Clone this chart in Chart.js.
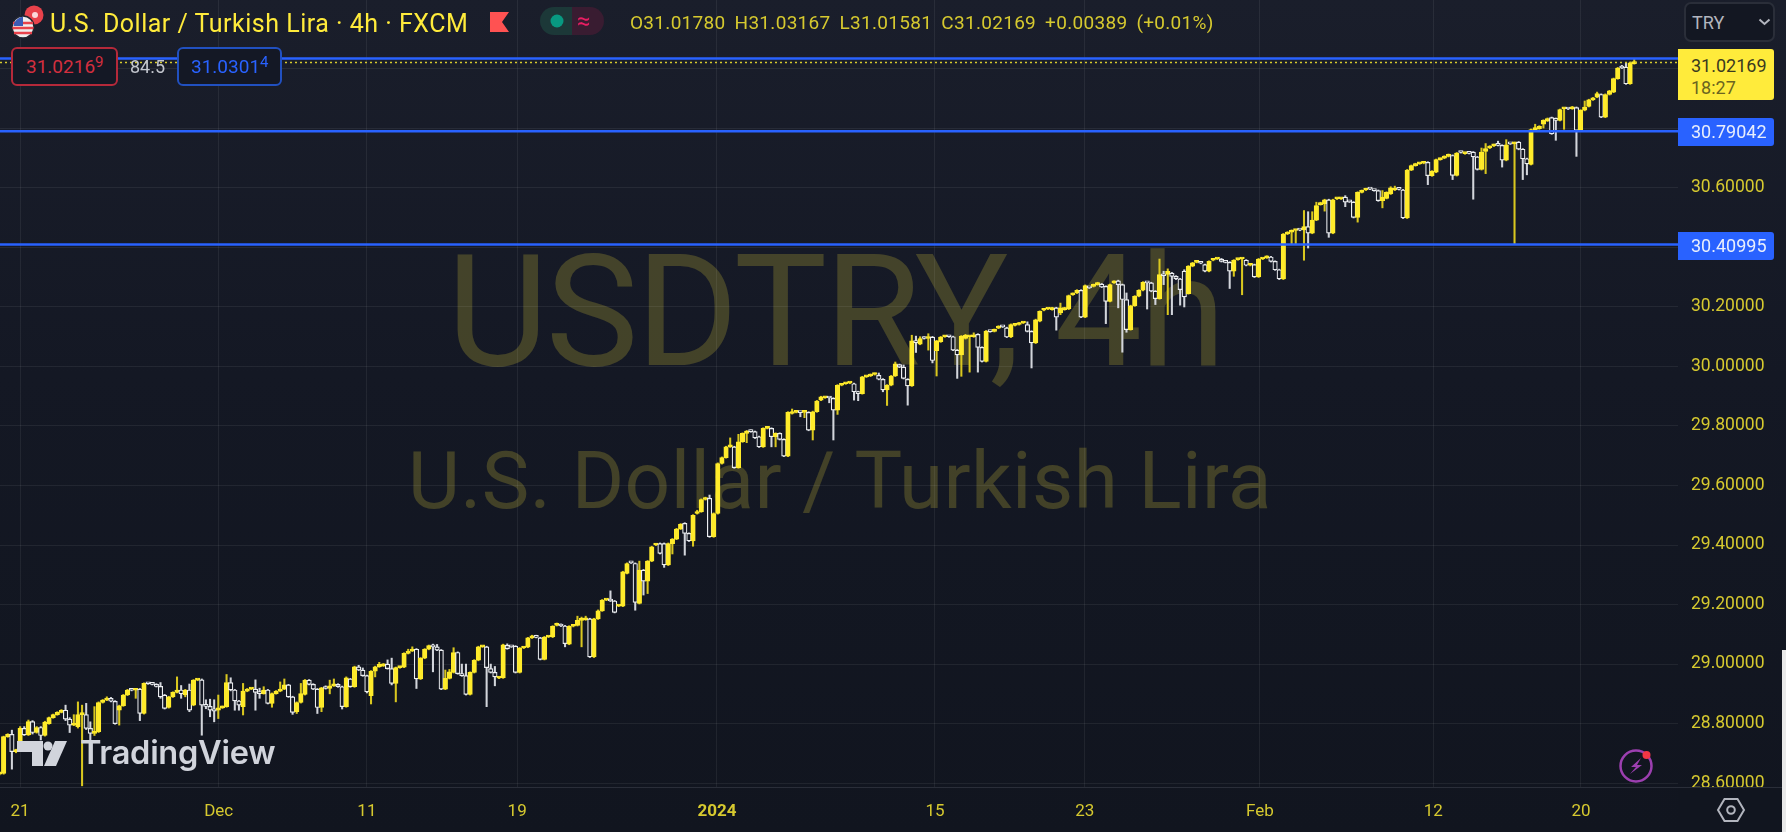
<!DOCTYPE html>
<html><head><meta charset="utf-8">
<script src="https://cdn.jsdelivr.net/npm/chart.js@4"></script>
<style>
html,body{margin:0;padding:0;background:#131722;overflow:hidden}
#wrap{position:relative;width:1786px;height:832px;background:linear-gradient(#1a1e2b,#141824 45%,#11151f);font-family:Roboto,sans-serif;overflow:hidden}
#wrap>*{position:absolute}
canvas{left:0;top:0;z-index:1}
.ov{z-index:2;white-space:nowrap;line-height:1}
.wm{z-index:0;color:rgba(255,235,59,.2);white-space:nowrap;line-height:1;font-family:Roboto,sans-serif}
.tag{z-index:2;left:1678px;width:96px;border-radius:0 3px 3px 0;text-align:left;box-sizing:border-box;padding-left:13px;font-size:18px}
.box{z-index:2;box-sizing:border-box;border-radius:6px;border:2px solid;background:#141825;font-size:19px;top:47px;height:39px;line-height:36px;white-space:nowrap}
.box sup{font-size:15px;line-height:0;vertical-align:6px}
</style></head><body>
<div id="wrap">
<div class="wm" style="left:447px;top:234px;font-size:156px;letter-spacing:-2.4px">USDTRY, 4h</div>
<div class="wm" style="left:408px;top:441px;font-size:80px;letter-spacing:.45px">U.S. Dollar / Turkish Lira</div>
<canvas id="c" width="1786" height="832"></canvas>

<svg class="ov" style="left:10px;top:3px" width="44" height="38" viewBox="0 0 44 38">
 <circle cx="24" cy="12" r="9.5" fill="#e8424b"/><circle cx="25" cy="12" r="3" fill="#fff" opacity=".8"/>
 <circle cx="13" cy="24" r="11" fill="#eee" stroke="#20242f" stroke-width="1.5"/>
 <path d="M3 20h20M2.500 25h21M4 30h18" stroke="#e8424b" stroke-width="2.400"/>
 <path d="M13 13.800a10.200 10.200 0 0 0-9.500 9.200h9.500z" fill="#3b5bb5"/>
</svg>
<div class="ov" style="left:50px;top:11px;font-size:25px;color:#FFEB3B;letter-spacing:.5px">U.S. Dollar / Turkish Lira · 4h · FXCM</div>
<svg class="ov" style="left:490px;top:12px" width="20" height="20"><path d="M0 0H19L12 10L19 20H0Z" fill="#ff5252"/></svg>
<svg class="ov" style="left:540px;top:6px" width="66" height="30">
 <path d="M14 1H32V29H14A14 14 0 0 1 14 1Z" fill="#1c3838"/>
 <path d="M32 1H50A14 14 0 0 1 50 29H32Z" fill="#391c31"/>
 <circle cx="17" cy="15" r="6.500" fill="#089981"/>
</svg>
<div class="ov" style="left:577px;top:9px;font-size:24px;color:#e91e63">≈</div>
<div class="ov" style="left:630px;top:13px;font-size:19px;color:#D6C92F;word-spacing:4px;letter-spacing:.3px">O31.01780 H31.03167 L31.01581 C31.02169 +0.00389 (+0.01%)</div>

<div class="box" style="left:11px;width:107px;border-color:#b5293a;color:#d32f3f;padding-left:13px">31.0216<sup>9</sup></div>
<div class="ov" style="left:130px;top:58px;font-size:18px;color:#c3c6ce">84.5</div>
<div class="box" style="left:177px;width:105px;border-color:#2150c0;color:#2962FF;padding-left:12px">31.0301<sup>4</sup></div>

<div class="ov" style="left:1684px;top:2px;width:91px;height:40px;box-sizing:border-box;border:2px solid #2a2e39;border-radius:7px;background:#131722"></div>
<div class="ov" style="left:1692px;top:14px;font-size:18px;color:#b2b5be">TRY</div>
<svg class="ov" style="left:1758px;top:18px" width="13" height="9"><path d="M1.500 1.500L6.500 6L11.500 1.500" fill="none" stroke="#b2b5be" stroke-width="2"/></svg>

<div class="tag" style="top:49px;height:51px;background:#FFEB3B;color:#3a3a20;padding-top:6px;line-height:22px">31.02169<br><span style="color:#6b6420">18:27</span></div>
<div class="tag" style="top:118px;height:28px;background:#2962FF;color:#e8eefc;line-height:28px">30.79042</div>
<div class="tag" style="top:232px;height:28px;background:#2962FF;color:#e8eefc;line-height:28px">30.40995</div>

<svg class="ov" style="left:17px;top:740px" width="52" height="27" viewBox="0 0 52 27">
 <path d="M0 1H26V26H15V12H0Z" fill="#d1d4dc"/><circle cx="31" cy="6" r="4.500" fill="#d1d4dc"/>
 <path d="M38 1H50L39 26H27Z" fill="#d1d4dc"/>
</svg>
<div class="ov" style="left:80px;top:736px;font-family:Inter,sans-serif;font-weight:600;font-size:32.6px;color:#d1d4dc;letter-spacing:-.3px">TradingView</div>

<svg class="ov" style="left:1616px;top:746px" width="40" height="40" viewBox="0 0 40 40">
 <circle cx="20" cy="20" r="15.500" fill="none" stroke="#9c3fb0" stroke-width="2.500"/>
 <path d="M25 12L15 21H20L14 28L26 19H21Z" fill="#9c3fb0"/>
 <circle cx="30.500" cy="9" r="4" fill="#f23645"/>
</svg>

<div class="ov" style="left:0;top:787px;width:1782px;height:1px;background:#2a2e39"></div>
<div class="ov" style="left:1678px;top:788px;width:104px;height:44px;background:#11151f"></div>
<svg class="ov" style="left:1716px;top:796px" width="30" height="28" viewBox="0 0 30 28">
 <path d="M8.500 3H21.500L28 14L21.500 25H8.500L2 14Z" fill="none" stroke="#b2b5be" stroke-width="2"/>
 <circle cx="15" cy="14" r="3.800" fill="none" stroke="#b2b5be" stroke-width="2"/>
</svg>
<div class="ov" style="left:1782px;top:650px;width:4px;height:182px;background:#e9e9e9"></div>
</div>
<script>
const xTickPositions=[4.97,53.1,89,125.4,173.8,226.6,262.9,305.3,347.3,383.1];
const xTickLabels=['21','Dec','11','19','2024','15','23','Feb','12','20'];
const yTickValues=[28.6,28.8,29.0,29.2,29.4,29.6,29.8,30.0,30.2,30.4,30.6,30.8,31.0];
const yTickLabels=['28.60000','28.80000','29.00000','29.20000','29.40000','29.60000','29.80000','30.00000','30.20000','','30.60000','',''];
const blueLevels=[31.0348,30.79042,30.40995];
const lastClose=31.02169;
const opens=[
28.630,28.633,28.756,28.764,28.706,28.710,28.784,28.762,28.807,28.770,
28.787,28.760,28.800,28.820,28.830,28.838,28.845,28.815,28.795,28.790,
28.830,28.830,28.784,28.767,28.773,28.871,28.879,28.885,28.875,28.845,
28.860,28.896,28.913,28.912,28.916,28.834,28.935,28.934,28.932,28.925,
28.896,28.854,28.890,28.905,28.913,28.896,28.913,28.862,28.946,28.947,
28.862,28.858,28.850,28.845,28.853,28.857,28.938,28.913,28.876,28.857,
28.909,28.916,28.916,28.905,28.901,28.913,28.868,28.901,28.909,28.916,
28.930,28.890,28.840,28.871,28.898,28.946,28.932,28.916,28.854,28.920,
28.918,28.927,28.932,28.924,28.857,28.950,28.924,28.991,28.980,28.961,
28.894,28.976,28.991,28.994,29.000,28.985,28.935,28.988,28.990,29.036,
29.044,29.050,28.950,29.020,29.050,29.064,29.058,29.047,28.916,28.952,
28.972,29.039,28.968,28.961,28.898,28.972,29.013,29.058,29.058,28.985,
28.972,28.953,28.954,29.063,29.060,29.060,28.972,29.054,29.057,29.088,
29.091,29.088,29.016,29.091,29.091,29.130,29.133,29.128,29.067,29.127,
29.130,29.147,29.149,29.152,29.024,29.152,29.179,29.215,29.215,29.212,
29.195,29.195,29.305,29.342,29.338,29.204,29.316,29.279,29.346,29.400,
29.405,29.405,29.333,29.405,29.420,29.454,29.473,29.439,29.414,29.506,
29.512,29.553,29.557,29.428,29.506,29.674,29.694,29.730,29.730,29.660,
29.747,29.775,29.783,29.781,29.764,29.730,29.792,29.792,29.764,29.775,
29.755,29.699,29.842,29.846,29.846,29.846,29.846,29.786,29.848,29.887,
29.895,29.895,29.893,29.853,29.937,29.942,29.944,29.942,29.915,29.909,
29.965,29.968,29.973,29.970,29.957,29.921,29.937,29.968,30.006,29.998,
29.957,29.935,30.086,30.075,30.097,30.094,30.099,30.053,30.083,30.100,
30.101,30.100,30.055,30.039,30.094,30.100,30.100,30.108,30.064,30.017,
30.118,30.118,30.129,30.135,30.130,30.099,30.138,30.141,30.146,30.141,
30.118,30.079,30.152,30.189,30.193,30.191,30.197,30.180,30.191,30.193,
30.241,30.247,30.256,30.166,30.265,30.269,30.275,30.277,30.269,30.219,
30.281,30.288,30.275,30.225,30.124,30.204,30.236,30.256,30.283,30.281,
30.253,30.228,30.309,30.309,30.314,30.303,30.294,30.320,30.245,30.337,
30.350,30.348,30.342,30.320,30.357,30.361,30.361,30.353,30.350,30.320,
30.359,30.361,30.357,30.340,30.342,30.301,30.361,30.365,30.368,30.353,
30.325,30.294,30.445,30.451,30.457,30.459,30.459,30.470,30.448,30.492,
30.544,30.546,30.560,30.448,30.563,30.563,30.569,30.555,30.552,30.501,
30.585,30.593,30.597,30.593,30.591,30.557,30.565,30.580,30.593,30.597,
30.593,30.499,30.660,30.675,30.681,30.683,30.686,30.641,30.653,30.695,
30.700,30.706,30.709,30.642,30.720,30.715,30.717,30.720,30.704,30.662,
30.723,30.734,30.741,30.745,30.743,30.693,30.749,30.748,30.754,30.730,
30.698,30.679,30.796,30.799,30.814,30.825,30.836,30.833,30.827,30.866,
30.866,30.866,30.870,30.793,30.861,30.874,30.896,30.905,30.914,30.838,
30.914,30.922,30.967,31.006,31.006,30.950,31.0178];
const highs=[
28.638,28.758,28.766,28.778,28.714,28.790,28.790,28.812,28.810,28.790,
28.790,28.808,28.822,28.832,28.840,28.847,28.862,28.820,28.830,28.873,
28.862,28.868,28.806,28.857,28.873,28.881,28.890,28.888,28.877,28.862,
28.898,28.915,28.915,28.915,28.918,28.937,28.938,28.936,28.934,28.938,
28.898,28.892,28.907,28.957,28.928,28.915,28.933,28.948,28.949,28.950,
28.880,28.882,28.880,28.896,28.859,28.965,28.954,28.915,28.878,28.935,
28.918,28.919,28.947,28.919,28.924,28.915,28.903,28.911,28.940,28.950,
28.932,28.892,28.873,28.935,28.948,28.948,28.934,28.918,28.922,28.927,
28.946,28.950,28.934,28.926,28.957,28.952,28.993,28.996,28.987,28.963,
28.978,28.993,29.006,29.002,29.014,29.020,28.990,28.992,29.038,29.050,
29.058,29.052,29.022,29.052,29.064,29.067,29.066,29.049,28.980,28.982,
29.055,29.041,29.000,29.000,28.974,29.015,29.060,29.061,29.060,29.000,
28.992,28.958,29.067,29.068,29.062,29.062,29.056,29.059,29.090,29.097,
29.097,29.090,29.093,29.094,29.129,29.138,29.135,29.130,29.129,29.132,
29.161,29.158,29.161,29.154,29.154,29.182,29.217,29.218,29.246,29.214,
29.198,29.312,29.340,29.345,29.340,29.346,29.318,29.348,29.396,29.405,
29.407,29.407,29.407,29.422,29.456,29.472,29.475,29.441,29.502,29.517,
29.555,29.561,29.568,29.508,29.676,29.696,29.732,29.760,29.732,29.772,
29.777,29.785,29.787,29.783,29.766,29.794,29.797,29.794,29.777,29.777,
29.757,29.848,29.857,29.849,29.848,29.849,29.848,29.850,29.886,29.900,
29.898,29.897,29.895,29.939,29.942,29.945,29.947,29.944,29.917,29.967,
29.968,29.975,29.978,29.978,29.959,29.939,29.970,30.015,30.008,30.005,
29.959,30.105,30.102,30.100,30.100,30.110,30.101,30.088,30.101,30.104,
30.103,30.102,30.057,30.104,30.108,30.103,30.113,30.110,30.066,30.121,
30.120,30.126,30.137,30.137,30.132,30.143,30.141,30.148,30.149,30.150,
30.120,30.159,30.187,30.195,30.196,30.199,30.199,30.213,30.199,30.240,
30.247,30.258,30.258,30.274,30.267,30.277,30.283,30.279,30.271,30.277,
30.288,30.290,30.277,30.247,30.206,30.238,30.258,30.285,30.285,30.283,
30.255,30.361,30.320,30.328,30.316,30.305,30.296,30.325,30.339,30.350,
30.353,30.350,30.344,30.355,30.363,30.364,30.363,30.355,30.352,30.359,
30.362,30.364,30.359,30.344,30.344,30.363,30.364,30.372,30.370,30.355,
30.327,30.447,30.453,30.459,30.460,30.461,30.524,30.520,30.520,30.552,
30.552,30.562,30.562,30.562,30.566,30.566,30.574,30.557,30.554,30.587,
30.593,30.599,30.599,30.595,30.593,30.591,30.587,30.604,30.606,30.599,
30.595,30.662,30.677,30.683,30.684,30.687,30.688,30.658,30.697,30.700,
30.708,30.714,30.711,30.719,30.722,30.718,30.719,30.722,30.706,30.734,
30.749,30.742,30.747,30.757,30.745,30.762,30.751,30.754,30.756,30.732,
30.700,30.798,30.814,30.809,30.829,30.835,30.838,30.835,30.865,30.869,
30.868,30.874,30.872,30.863,30.892,30.898,30.904,30.922,30.916,30.916,
30.928,30.969,31.005,31.012,31.020,31.023,31.03167];
const lows=[
28.628,28.630,28.754,28.647,28.702,28.708,28.760,28.760,28.765,28.768,
28.745,28.758,28.798,28.818,28.828,28.836,28.810,28.770,28.793,28.785,
28.591,28.780,28.740,28.760,28.770,28.869,28.877,28.873,28.798,28.795,
28.858,28.894,28.910,28.885,28.810,28.832,28.932,28.930,28.923,28.885,
28.849,28.852,28.888,28.903,28.885,28.890,28.840,28.860,28.944,28.761,
28.850,28.823,28.806,28.817,28.851,28.855,28.910,28.845,28.845,28.829,
28.907,28.914,28.845,28.885,28.899,28.866,28.855,28.899,28.907,28.914,
28.888,28.831,28.834,28.869,28.896,28.930,28.914,28.834,28.840,28.916,
28.900,28.925,28.922,28.849,28.855,28.922,28.922,28.978,28.959,28.903,
28.866,28.957,28.989,28.992,28.983,28.930,28.873,28.986,28.988,29.034,
29.042,28.918,28.948,29.018,29.048,28.974,29.045,28.914,28.914,28.950,
28.970,28.966,28.959,28.896,28.896,28.970,29.011,29.056,28.857,28.970,
28.927,28.951,28.952,29.050,29.056,28.970,28.970,29.052,29.055,29.086,
29.088,29.014,29.014,29.089,29.089,29.128,29.126,29.058,29.065,29.125,
29.128,29.058,29.147,29.022,29.022,29.150,29.177,29.213,29.210,29.172,
29.193,29.193,29.303,29.338,29.181,29.202,29.232,29.237,29.344,29.398,
29.370,29.325,29.331,29.370,29.418,29.452,29.366,29.412,29.396,29.504,
29.510,29.551,29.426,29.426,29.504,29.672,29.692,29.728,29.658,29.658,
29.745,29.744,29.779,29.758,29.728,29.728,29.790,29.730,29.730,29.753,
29.697,29.697,29.840,29.844,29.831,29.828,29.784,29.753,29.846,29.885,
29.893,29.878,29.753,29.839,29.935,29.940,29.942,29.887,29.885,29.907,
29.963,29.966,29.971,29.955,29.915,29.869,29.935,29.966,29.996,29.958,
29.870,29.933,30.047,30.073,30.092,30.055,30.012,29.968,30.081,30.098,
30.098,30.053,29.960,29.967,30.092,29.981,30.098,29.981,30.015,30.015,
30.115,30.116,30.127,30.131,30.097,30.097,30.136,30.139,30.144,30.116,
29.995,30.077,30.150,30.187,30.191,30.189,30.122,30.174,30.189,30.191,
30.239,30.245,30.164,30.164,30.262,30.267,30.273,30.265,30.144,30.217,
30.279,30.197,30.048,30.115,30.122,30.202,30.234,30.254,30.193,30.251,
30.208,30.226,30.275,30.174,30.174,30.292,30.206,30.200,30.243,30.335,
30.348,30.345,30.318,30.318,30.355,30.359,30.351,30.348,30.262,30.303,
30.357,30.241,30.338,30.338,30.299,30.299,30.359,30.363,30.351,30.323,
30.292,30.292,30.443,30.412,30.412,30.456,30.357,30.398,30.446,30.490,
30.542,30.522,30.434,30.446,30.561,30.561,30.537,30.551,30.499,30.485,
30.583,30.591,30.594,30.589,30.555,30.533,30.563,30.578,30.591,30.593,
30.497,30.497,30.658,30.673,30.679,30.681,30.611,30.639,30.651,30.693,
30.698,30.704,30.628,30.640,30.717,30.713,30.714,30.562,30.660,30.660,
30.648,30.732,30.739,30.741,30.670,30.691,30.746,30.410,30.728,30.628,
30.644,30.677,30.794,30.797,30.801,30.823,30.780,30.760,30.825,30.797,
30.863,30.864,30.706,30.791,30.859,30.872,30.894,30.903,30.836,30.836,
30.912,30.920,30.965,31.001,30.948,30.948,31.01581];
const closes=[
28.635,28.756,28.764,28.706,28.710,28.784,28.762,28.807,28.770,28.787,
28.760,28.805,28.820,28.830,28.838,28.845,28.815,28.795,28.796,28.830,
28.835,28.784,28.767,28.770,28.871,28.879,28.885,28.875,28.800,28.860,
28.896,28.913,28.912,28.913,28.834,28.935,28.934,28.932,28.925,28.890,
28.851,28.890,28.905,28.913,28.900,28.913,28.845,28.946,28.947,28.862,
28.858,28.845,28.842,28.853,28.857,28.938,28.913,28.876,28.862,28.909,
28.916,28.917,28.905,28.901,28.913,28.868,28.901,28.909,28.916,28.930,
28.890,28.838,28.871,28.901,28.946,28.932,28.916,28.854,28.920,28.918,
28.927,28.932,28.924,28.857,28.954,28.924,28.991,28.980,28.961,28.907,
28.976,28.991,28.999,29.000,28.985,28.935,28.988,28.990,29.036,29.044,
29.050,28.950,29.020,29.050,29.062,29.058,29.047,28.916,28.952,28.974,
29.039,28.968,28.961,28.898,28.972,29.013,29.058,29.059,28.988,28.972,
28.957,28.956,29.065,29.052,29.058,28.972,29.054,29.057,29.088,29.091,
29.090,29.016,29.091,29.092,29.127,29.135,29.128,29.069,29.127,29.130,
29.147,29.150,29.151,29.024,29.152,29.179,29.215,29.216,29.212,29.174,
29.196,29.310,29.338,29.340,29.207,29.316,29.279,29.346,29.394,29.403,
29.372,29.333,29.405,29.420,29.454,29.470,29.439,29.414,29.500,29.508,
29.553,29.559,29.428,29.506,29.674,29.694,29.730,29.732,29.660,29.747,
29.775,29.783,29.781,29.760,29.730,29.792,29.794,29.764,29.775,29.755,
29.699,29.846,29.844,29.847,29.845,29.847,29.786,29.848,29.884,29.898,
29.896,29.894,29.853,29.937,29.940,29.943,29.945,29.915,29.909,29.965,
29.966,29.973,29.976,29.957,29.921,29.937,29.968,30.009,29.998,29.960,
29.935,30.086,30.080,30.094,30.094,30.099,30.020,30.086,30.099,30.102,
30.100,30.055,30.039,30.102,30.105,30.101,30.105,30.064,30.017,30.119,
30.117,30.124,30.135,30.133,30.099,30.141,30.139,30.146,30.147,30.118,
30.079,30.157,30.185,30.193,30.194,30.197,30.166,30.197,30.197,30.238,
30.245,30.256,30.166,30.272,30.264,30.275,30.281,30.267,30.219,30.275,
30.286,30.275,30.225,30.124,30.204,30.236,30.256,30.283,30.281,30.253,
30.228,30.309,30.305,30.320,30.303,30.294,30.258,30.234,30.337,30.348,
30.351,30.347,30.320,30.353,30.361,30.362,30.353,30.350,30.320,30.357,
30.360,30.362,30.340,30.342,30.301,30.361,30.362,30.370,30.353,30.325,
30.294,30.445,30.451,30.457,30.458,30.458,30.470,30.448,30.492,30.541,
30.548,30.560,30.448,30.560,30.564,30.564,30.552,30.553,30.501,30.585,
30.591,30.597,30.596,30.591,30.557,30.569,30.585,30.600,30.597,30.595,
30.499,30.660,30.675,30.681,30.682,30.684,30.641,30.656,30.695,30.698,
30.706,30.712,30.642,30.717,30.719,30.716,30.716,30.704,30.662,30.720,
30.732,30.740,30.745,30.743,30.693,30.745,30.748,30.752,30.730,30.698,
30.681,30.796,30.802,30.807,30.827,30.833,30.782,30.827,30.863,30.867,
30.865,30.872,30.793,30.861,30.872,30.896,30.902,30.917,30.838,30.914,
30.926,30.967,31.003,31.003,30.950,31.020,31.02169];

const YELLOW='#FFEB2B', WICK_UP='#d9c71f', WHITE='#eceef1', WICK_DOWN='#d2d5db', HOLLOW='#131722';
const xMin=0.12, xMax=406.6;
const isDown=closes.map((c,i)=>c<opens[i]);
const wicks=closes.map((c,i)=>({x:i,y:[lows[i],highs[i]]}));
const bodies=closes.map((c,i)=>({x:i,y:[Math.min(opens[i],c),Math.max(opens[i],c)]}));
const hline=(v,color,width,dash)=>({type:'line',data:[{x:xMin,y:v},{x:xMax,y:v}],borderColor:color,borderWidth:width,borderDash:dash||[],pointRadius:0,order:0});
const gridColor='rgba(255,255,255,0.065)', tickColor='#D6C92F';
const noPad=s=>{s.paddingLeft=0;s.paddingRight=0;s.paddingTop=0;s.paddingBottom=0};
new Chart(document.getElementById('c'),{
 type:'bar',
 data:{datasets:[
  ...blueLevels.map(v=>hline(v,'#2962FF',2.5)),
  hline(lastClose,'#D6C92F',1.5,[2,3]),
  {type:'bar',data:bodies,grouped:false,barThickness:4.5,minBarLength:2,order:1,borderSkipped:false,borderWidth:1.2,
   borderColor:isDown.map(d=>d?WHITE:YELLOW),backgroundColor:isDown.map(d=>d?HOLLOW:YELLOW)},
  {type:'bar',data:wicks,grouped:false,barThickness:1.4,order:2,borderWidth:0,
   backgroundColor:isDown.map(d=>d?WICK_DOWN:WICK_UP)}
 ]},
 options:{
  responsive:false,animation:false,devicePixelRatio:1,
  layout:{padding:0},
  plugins:{legend:{display:false},tooltip:{enabled:false},title:{display:false}},
  scales:{
   x:{type:'linear',offset:false,min:xMin,max:xMax,
    afterBuildTicks:s=>{s.ticks=xTickPositions.map(v=>({value:v}))},
    afterFit:s=>{s.height=45;noPad(s)},
    grid:{color:gridColor,drawTicks:false,offset:false},border:{display:false},
    ticks:{color:tickColor,padding:15,autoSkip:false,maxRotation:0,
     font:c=>({family:'Roboto',size:17,weight:(c.tick&&c.tick.label==='2024')?'bold':'normal'}),
     callback:(v,i)=>xTickLabels[i]}},
   y:{position:'right',min:28.587,max:31.2314,
    afterBuildTicks:s=>{s.ticks=yTickValues.map(v=>({value:v}))},
    afterFit:s=>{s.width=108;noPad(s)},
    grid:{color:gridColor,drawTicks:false},border:{display:false},
    ticks:{color:tickColor,padding:13,autoSkip:false,font:{family:'Roboto',size:17.5},
     callback:(v,i)=>yTickLabels[i]}}
  }
 }
});
</script>
</body></html>
